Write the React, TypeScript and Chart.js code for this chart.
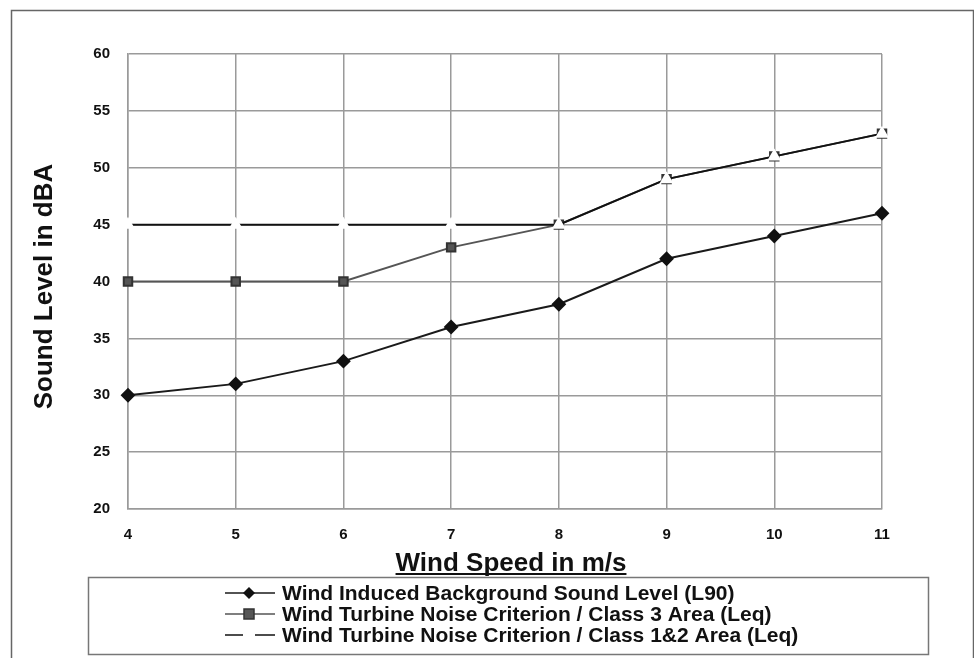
import React, { useEffect, useRef } from "react";
import { Chart, registerables } from "chart.js";

Chart.register(...registerables);

const windSpeeds = ["4", "5", "6", "7", "8", "9", "10", "11"];
const backgroundL90 = [30, 31, 33, 36, 38, 42, 44, 46];
const class3Criterion = [40, 40, 40, 43, 45, 49, 51, 53];
const class12Criterion = [45, 45, 45, 45, 45, 49, 51, 53];
const yMin = 20;
const yMax = 60;
const yStep = 5;

const seriesNames = [
  "Wind Induced Background Sound Level (L90)",
  "Wind Turbine Noise Criterion / Class 3 Area (Leq)",
  "Wind Turbine Noise Criterion / Class 1&2 Area (Leq)",
];
const yTitle = "Sound Level in dBA";
const xTitle = "Wind Speed in m/s";

const FONT = "'Liberation Sans', Arial, sans-serif";

const framePlugin = {
  id: "frame",
  beforeDraw(chart: any) {
    const ctx = chart.ctx;
    ctx.save();
    ctx.fillStyle = "#fff";
    ctx.fillRect(0, 0, chart.width, chart.height);
    ctx.restore();
  },
  afterDraw(chart: any) {
    const ctx = chart.ctx;
    const a = chart.chartArea;
    ctx.save();
    // outer frame
    ctx.strokeStyle = "#666";
    ctx.lineWidth = 1.5;
    ctx.strokeRect(11.5, 10.5, 962, 700);

    // y title
    ctx.fillStyle = "#111";
    ctx.font = `bold 26px ${FONT}`;
    ctx.textAlign = "center";
    ctx.textBaseline = "middle";
    ctx.save();
    ctx.translate(45, (a.top + a.bottom) / 2 + 5);
    ctx.rotate(-Math.PI / 2);
    ctx.fillText(yTitle, 0, 0);
    ctx.restore();

    // x title underlined
    ctx.font = `bold 26px ${FONT}`;
    ctx.textBaseline = "alphabetic";
    const cx = (a.left + a.right) / 2 + 6;
    const base = 571;
    ctx.fillText(xTitle, cx, base);
    const w = ctx.measureText(xTitle).width;
    ctx.strokeStyle = "#111";
    ctx.lineWidth = 2;
    ctx.beginPath();
    ctx.moveTo(cx - w / 2, base + 3);
    ctx.lineTo(cx + w / 2, base + 3);
    ctx.stroke();

    // legend box
    ctx.strokeStyle = "#777";
    ctx.lineWidth = 1.5;
    ctx.strokeRect(88.5, 577.5, 840, 77);

    const rows = [593, 614, 635];
    chart.data.datasets.forEach((ds: any, i: number) => {
      const y = rows[i];
      ctx.strokeStyle = ds.borderColor;
      ctx.lineWidth = 1.5;
      ctx.beginPath();
      ctx.moveTo(225, y);
      ctx.lineTo(275, y);
      ctx.stroke();
      const r = 6;
      ctx.fillStyle = ds.pointBackgroundColor;
      ctx.strokeStyle = ds.pointBorderColor;
      if (ds.pointStyle === "rectRot") {
        ctx.beginPath();
        ctx.moveTo(249, y - r);
        ctx.lineTo(249 + r, y);
        ctx.lineTo(249, y + r);
        ctx.lineTo(249 - r, y);
        ctx.closePath();
        ctx.fill();
      } else if (ds.pointStyle === "rect") {
        ctx.fillRect(249 - 5, y - 5, 10, 10);
        ctx.strokeRect(249 - 5, y - 5, 10, 10);
      } else {
        ctx.fillRect(243, y - 4, 12, 8);
      }
      ctx.fillStyle = "#111";
      ctx.font = `bold 21px ${FONT}`;
      ctx.textAlign = "left";
      ctx.textBaseline = "middle";
      ctx.fillText(seriesNames[i], 282, y + 1);
    });
    ctx.restore();
  },
};

export default function App() {
  const ref = useRef<HTMLCanvasElement>(null);
  useEffect(() => {
    if (!ref.current) return;
    const gridColor = "#9a9a9a";
    const chart = new Chart(ref.current, {
      type: "line",
      data: {
        labels: windSpeeds,
        datasets: [
          {
            label: seriesNames[0],
            data: backgroundL90,
            borderColor: "#1a1a1a",
            borderWidth: 2,
            pointStyle: "rectRot",
            pointRadius: 6,
            pointBackgroundColor: "#111",
            pointBorderColor: "#111",
            order: 0,
          },
          {
            label: seriesNames[1],
            data: class3Criterion,
            borderColor: "#555",
            borderWidth: 2,
            pointStyle: "rect",
            pointRadius: 6,
            pointBackgroundColor: "#555",
            pointBorderColor: "#333",
            order: 2,
          },
          {
            label: seriesNames[2],
            data: class12Criterion,
            borderColor: "#111",
            borderWidth: 2,
            pointStyle: "triangle",
            pointRadius: 6,
            pointBackgroundColor: "#fff",
            pointBorderColor: "#fff",
            order: 1,
          },
        ] as any,
      },
      options: {
        animation: false,
        responsive: false,
        devicePixelRatio: 1,
        layout: { padding: { left: 0, right: 92, top: 54, bottom: 0 } },
        plugins: { legend: { display: false }, tooltip: { enabled: false } },
        elements: { line: { tension: 0 } },
        scales: {
          x: {
            type: "category",
            offset: false,
            grid: { color: gridColor, lineWidth: 1.5, drawTicks: false },
            border: { color: gridColor, width: 1.5 },
            ticks: {
              color: "#111",
              font: { family: FONT, size: 15, weight: "bold" },
              padding: 17,
              maxRotation: 0,
            },
            afterFit: (s: any) => {
              s.height = 658 - 509;
            },
          },
          y: {
            min: yMin,
            max: yMax,
            grid: { color: gridColor, lineWidth: 1.5, drawTicks: false },
            border: { color: gridColor, width: 1.5 },
            ticks: {
              stepSize: yStep,
              color: "#111",
              font: { family: FONT, size: 15, weight: "bold" },
              padding: 18,
            },
            afterFit: (s: any) => {
              s.width = 128;
            },
          },
        },
      },
      plugins: [framePlugin],
    } as any);
    return () => chart.destroy();
  }, []);
  return (
    <div style={{ position: "fixed", left: 0, top: 0, width: 974, height: 658, background: "#fff" }}>
      <canvas ref={ref} width={974} height={658} style={{ display: "block" }} />
    </div>
  );
}
